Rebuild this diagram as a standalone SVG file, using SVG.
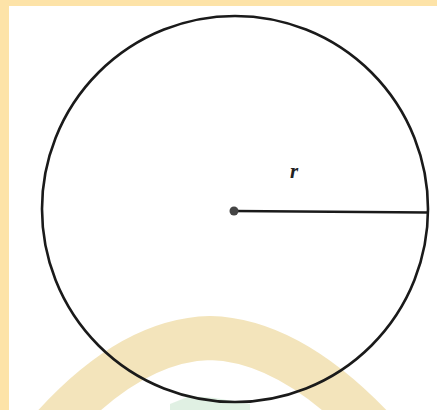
<svg xmlns="http://www.w3.org/2000/svg" width="437" height="410" viewBox="0 0 437 410">
<style>
.stroke{fill:none;stroke:#1a1a1a;stroke-width:2.6}
.lbl{font-family:"Liberation Serif","DejaVu Serif",serif;font-style:italic;font-weight:bold;font-size:21px;fill:#222}
</style>
<rect x="0" y="0" width="437" height="410" fill="#fde3a8"/>
<rect x="9" y="6" width="428" height="404" fill="#ffffff"/>
<g id="watermark" opacity="0.9">
<path d="M50,430 Q130,340 210,338 Q290,340 375,430" fill="none" stroke="#f2e2b4" stroke-width="44"/>
<path d="M170,404 L190,396 L215,398 L250,404 L250,410 L170,410 Z" fill="#cfe8d4" opacity="0.7"/>
</g>
<g id="circle">
<circle class="stroke" cx="235" cy="209" r="193"/>
</g>
<g id="connectors">
<line class="stroke" x1="234" y1="211" x2="428" y2="212.5"/>
</g>
<g id="center">
<circle cx="234" cy="211" r="4.5" fill="#444"/>
</g>
<g id="label">
<text class="lbl" x="294" y="178" text-anchor="middle">r</text>
</g>
</svg>
